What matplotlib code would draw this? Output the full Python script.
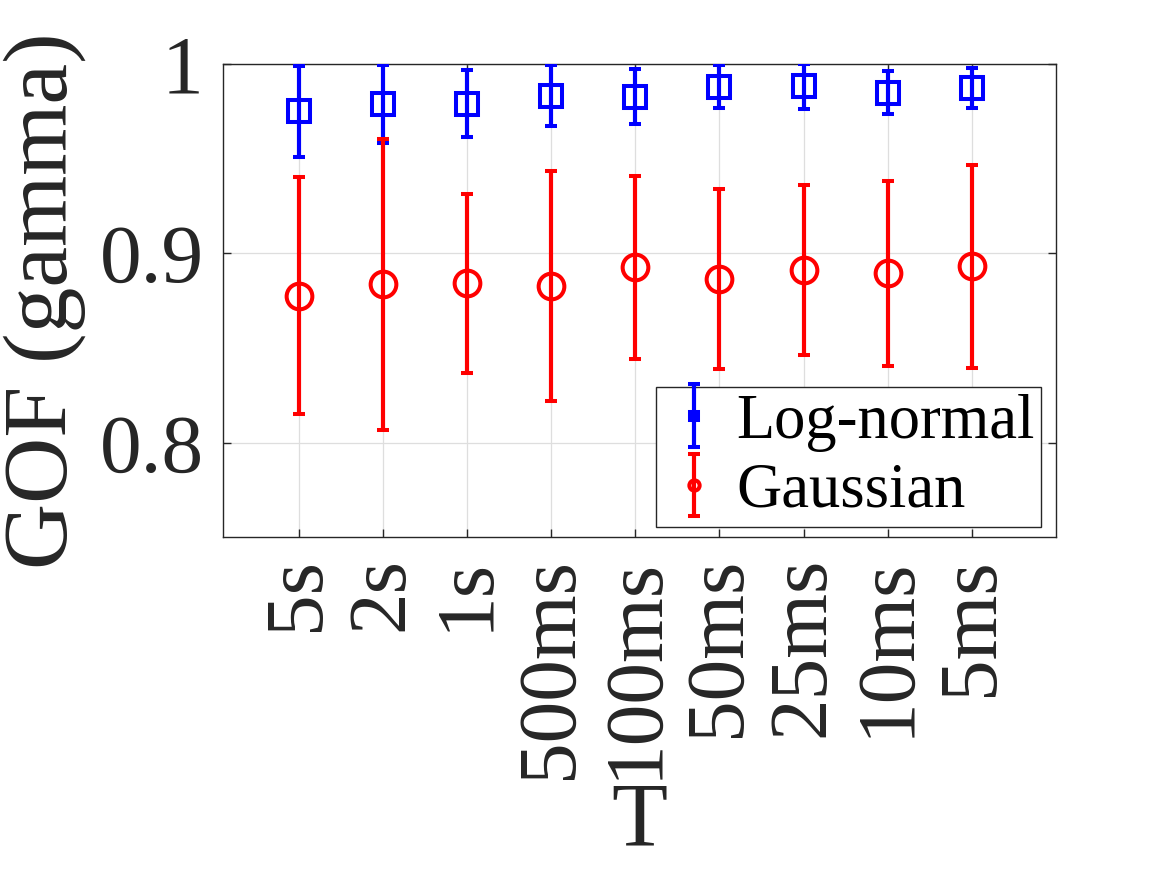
import numpy as np
import matplotlib
matplotlib.use("Agg")
import matplotlib.pyplot as plt

# window lengths (x categories)
labels = ['5s', '2s', '1s', '500ms', '100ms', '50ms', '25ms', '10ms', '5ms']

# GOF values (mean, symmetric error)
lognormal_mean = [0.975, 0.9787, 0.9791, 0.9833, 0.9828, 0.9879, 0.9882, 0.9849, 0.9873]
lognormal_err = [0.024, 0.0206, 0.0176, 0.0161, 0.0143, 0.0113, 0.0118, 0.0115, 0.0107]

gauss_mean = [0.8776, 0.8836, 0.8842, 0.8829, 0.8926, 0.8863, 0.8912, 0.8894, 0.8933]
gauss_err = [0.0626, 0.0768, 0.0472, 0.0607, 0.0484, 0.0475, 0.0451, 0.0487, 0.0536]

plt.rcParams['font.family'] = ['Liberation Serif', 'DejaVu Serif']
dark = (0.15, 0.15, 0.15)

fig = plt.figure(figsize=(11.67, 8.75), dpi=100)
ax = fig.add_axes([0.1911, 0.3858, 0.9049 - 0.1911, 0.9269 - 0.3858])

x = np.arange(1, len(labels) + 1)

ax.errorbar(x, lognormal_mean, yerr=lognormal_err, fmt='s', color='blue',
            markerfacecolor='none', markersize=15.5, markeredgewidth=2.9,
            elinewidth=3, capsize=4.5, capthick=3, label='Log-normal', zorder=3)
ax.errorbar(x, gauss_mean, yerr=gauss_err, fmt='o', color='red',
            markerfacecolor='none', markersize=18.5, markeredgewidth=2.9,
            elinewidth=3, capsize=4.5, capthick=3, label='Gaussian', zorder=3)

ax.set_xlim(0.1, 10.0)
ax.set_ylim(0.75, 1.0)
ax.set_yticks([0.8, 0.9, 1.0])
ax.set_yticklabels(['0.8', '0.9', '1'])
ax.set_xticks(x)
ax.set_xticklabels(labels, rotation=90)

ax.grid(True, color=(0.87, 0.87, 0.87), linewidth=0.9)
ax.set_axisbelow(True)
for s in ax.spines.values():
    s.set_color(dark)
    s.set_linewidth(1.0)
ax.tick_params(direction='in', length=6, width=1.0, color=dark,
               top=True, right=True, labelsize=60, labelcolor=dark, pad=14)

ax.set_xlabel('T', fontsize=66, color=dark, labelpad=2)
ax.set_ylabel('GOF (gamma)', fontsize=66, color=dark, labelpad=10)

leg = ax.legend(loc='lower right', bbox_to_anchor=(0.982, 0.022), borderaxespad=0,
                fontsize=45, frameon=True, fancybox=False,
                edgecolor=dark, framealpha=1, borderpad=0.1, handlelength=1.0,
                handletextpad=0.18, labelspacing=0.18, markerscale=0.4)
leg.get_frame().set_linewidth(1.0)

fig.savefig('out.png', dpi=100)
